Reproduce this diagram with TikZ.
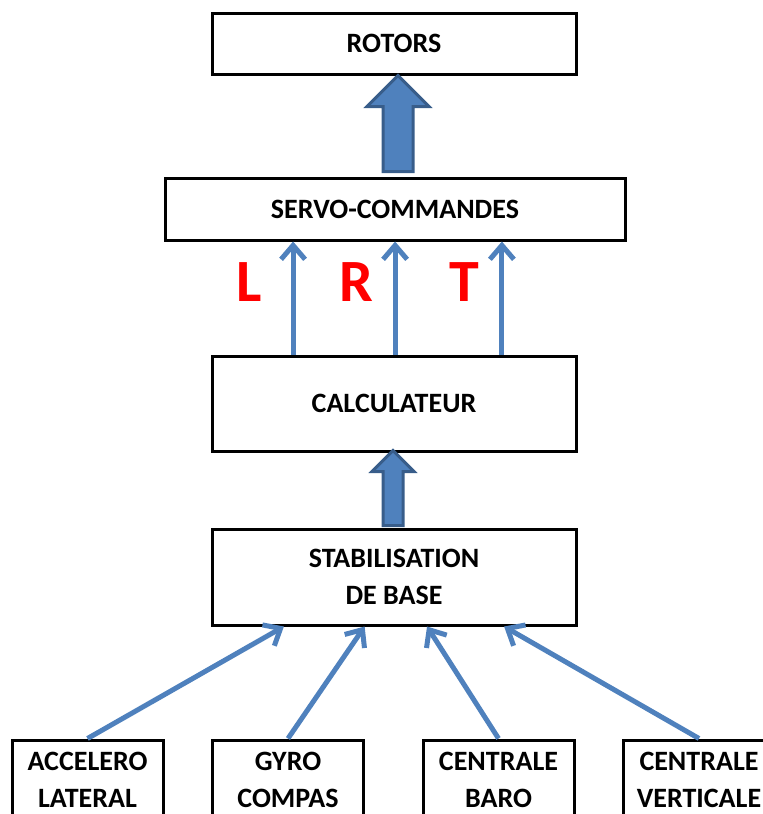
\documentclass[tikz,border=0pt]{standalone}
\usepackage{fontspec}
\setmainfont{Carlito}[BoldFont={Carlito Bold}]
\usepackage{tikz}
\usetikzlibrary{positioning,calc,shapes.arrows,arrows.meta}

\definecolor{arrowblue}{HTML}{4F81BD}
\definecolor{arrowedge}{HTML}{385D8A}

\begin{document}
\begin{tikzpicture}[x=1pt,y=-1pt]
        \tikzstyle{blok}=[rectangle, draw, line width=3pt, minimum width=364pt, inner sep=0pt, align=center, font=\fontsize{28}{37}\selectfont\bfseries]
        \tikzstyle{sensor}=[blok, minimum width=151pt, minimum height=80pt]
        \tikzstyle{bigarrow}=[single arrow, rotate=90, anchor=tail, fill=arrowblue, draw=arrowedge, line width=3pt, inner sep=0pt, text depth=0pt, single arrow head indent=0pt]
        \tikzstyle{sigarrow}=[draw=arrowblue, line width=5pt, -{Straight Barb[length=14pt,width=24pt]}]
        \tikzstyle{letter}=[text=red, inner sep=0pt, font=\bfseries\fontsize{60}{60}\selectfont]

        \useasboundingbox (0,0) rectangle (763,814);
        \clip (0,0) rectangle (763,814);

        \node[blok, minimum height=61pt] (rotors) at (394,43.5) {ROTORS};
        \node[blok, minimum width=460pt, minimum height=62pt] (servo) at (395,209) {SERVO-COMMANDES};
        \node[blok, minimum height=95pt] (calc) at (394,403.5) {CALCULATEUR};
        \node[blok, minimum height=96pt] (stab) at (394,577) {STABILISATION\\DE BASE};

        \node[sensor] (acc)  at (87.5,780)  {ACCELERO\\LATERAL};
        \node[sensor] (gyro) at (288,780)   {GYRO\\COMPAS};
        \node[sensor] (baro) at (498.5,780) {CENTRALE\\BARO};
        \node[sensor] (vert) at (699,780)   {CENTRALE\\VERTICALE};

        \node[bigarrow, text height=27pt, minimum height=96pt, minimum width=60pt, single arrow head extend=16pt] (a1) at (398,173) {};
        \node[bigarrow, text height=17pt, minimum height=75pt, minimum width=40pt, single arrow head extend=11pt] (a2) at (393,527) {};

        \foreach \f [count=\i] in {0.225,0.503,0.794}
            \coordinate (up\i) at ($(calc.north west)!\f!(calc.north east)$);
        \foreach \i in {1,2,3}
            \draw[sigarrow] (up\i) -- (up\i |- servo.south);

        \node[letter] (l) at (249,282) {L};
        \node[letter] (r) at (356,282) {R};
        \node[letter] (t) at (464,282) {T};

        \draw[sigarrow] (acc.north)  -- ($(stab.south west)!0.2!(stab.south east)$);
        \draw[sigarrow] (gyro.north) -- ($(stab.south west)!0.42!(stab.south east)$);
        \draw[sigarrow] (baro.north) -- ($(stab.south west)!0.59!(stab.south east)$);
        \draw[sigarrow] (vert.north) -- ($(stab.south west)!0.8!(stab.south east)$);

    \end{tikzpicture}
\end{document}
